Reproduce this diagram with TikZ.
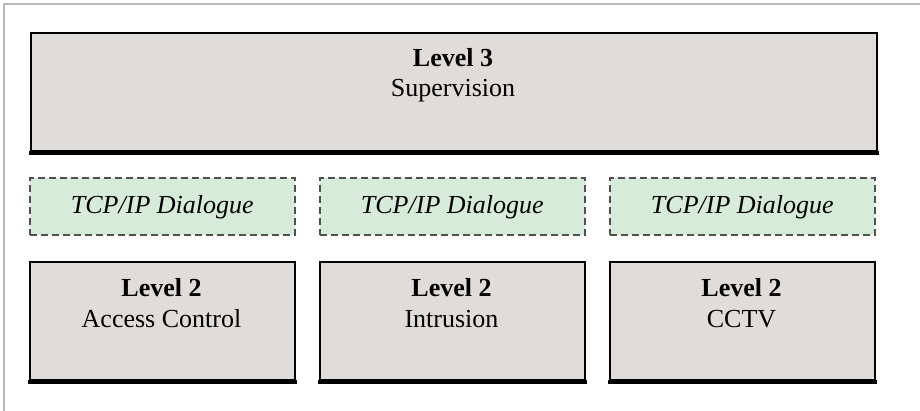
\documentclass[tikz,border=0pt]{standalone}
\usepackage{fontspec}
\setmainfont{Liberation Serif}
\definecolor{boxgray}{HTML}{E0DCD9}
\definecolor{tcpgreen}{HTML}{D6EBDA}
\definecolor{framegray}{HTML}{B8B8B8}
\definecolor{dashgray}{HTML}{505050}
\begin{document}
\begin{tikzpicture}[x=1pt,y=-1pt,
  levelbox/.style={draw=black, line width=2pt, fill=boxgray, inner sep=0pt, anchor=north west},
  tcpbox/.style={draw=dashgray, line width=1.6pt, dash pattern=on 7pt off 4pt, fill=tcpgreen, inner sep=0pt, anchor=north west},
  ttl/.style={font=\fontsize{26}{30}\selectfont\bfseries, anchor=base, inner sep=0pt},
  sub/.style={font=\fontsize{26}{30}\selectfont, anchor=base, inner sep=0pt},
  tcptext/.style={font=\fontsize{26}{30}\selectfont\itshape, anchor=base, inner sep=0pt},
  shadowfill/.style={fill=black}]
\useasboundingbox (0,0) rectangle (920,411);
\fill[white] (0,0) rectangle (920,411);
% frame
\draw[framegray, line width=2pt] (4,411) -- (4,4) -- (920,4);

% Level 3
\node[levelbox, minimum width=846pt, minimum height=118pt] (top) at (30,32) {};
\fill[shadowfill] ([xshift=-1pt,yshift=1pt]top.south west) rectangle ([xshift=1pt,yshift=-3pt]top.south east);
\node[ttl] (l3) at (453,67) {Level 3};
\node[sub] (sup) at (453,97) {Supervision};

% TCP/IP dialogue boxes
\node[tcpbox, minimum width=265pt, minimum height=57pt] (d1) at (29,177) {};
\node[tcpbox, minimum width=265pt, minimum height=57pt] (d2) at (319,177) {};
\node[tcpbox, minimum width=265pt, minimum height=57pt] (d3) at (609,177) {};
\node[tcptext] (t1) at ([yshift=-7pt]d1.center) {TCP/IP Dialogue};
\node[tcptext] (t2) at ([yshift=-7pt]d2.center) {TCP/IP Dialogue};
\node[tcptext] (t3) at ([yshift=-7pt]d3.center) {TCP/IP Dialogue};

% Level 2 boxes
\node[levelbox, minimum width=265pt, minimum height=118pt] (b1) at (29,261) {};
\node[levelbox, minimum width=265pt, minimum height=118pt] (b2) at (319,261) {};
\node[levelbox, minimum width=265pt, minimum height=118pt] (b3) at (609,261) {};
\foreach \b in {b1,b2,b3}{
  \fill[shadowfill] ([xshift=-1pt,yshift=1pt]\b.south west) rectangle ([xshift=1pt,yshift=-3pt]\b.south east);
}
\node[ttl] (l2a) at (161.5,297) {Level 2};
\node[sub] (acc) at (161.5,327) {Access Control};
\node[ttl] (l2b) at (451.5,297) {Level 2};
\node[sub] (intr) at (451.5,327) {Intrusion};
\node[ttl] (l2c) at (741.5,297) {Level 2};
\node[sub] (cctv) at (741.5,327) {CCTV};
\end{tikzpicture}
\end{document}
